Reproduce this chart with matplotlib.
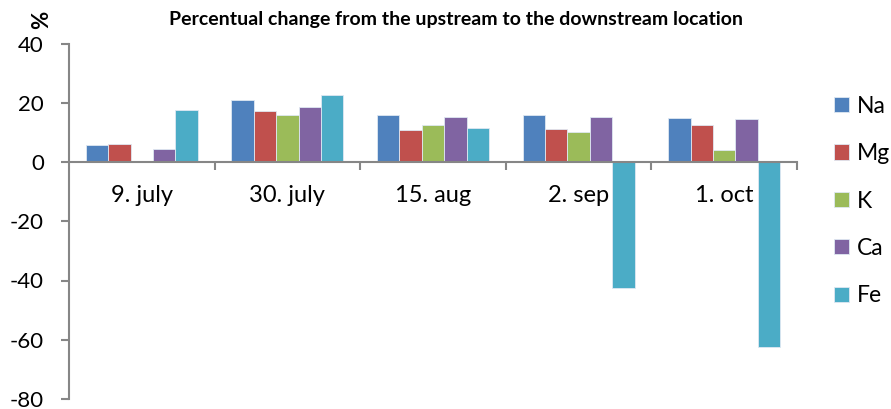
import matplotlib
matplotlib.use('Agg')
import matplotlib.pyplot as plt
import numpy as np

plt.rcParams['font.family'] = ['Lato', 'DejaVu Sans']
plt.rcParams['axes.unicode_minus'] = False

dates = ['9. july', '30. july', '15. aug', '2. sep', '1. oct']
elements = ['Na', 'Mg', 'K', 'Ca', 'Fe']
colors = ['#4F81BD', '#C0504D', '#9BBB59', '#8064A2', '#4BACC6']

na = [5.7, 21.0, 15.8, 15.8, 14.8]
mg = [6.1, 17.1, 10.8, 11.0, 12.5]
k = [0.0, 16.0, 12.5, 10.1, 3.9]
ca = [4.5, 18.4, 15.3, 15.3, 14.6]
fe = [17.6, 22.7, 11.4, -42.7, -62.4]
series = [na, mg, k, ca, fe]

fig = plt.figure(figsize=(8.91, 4.09), dpi=100)
ax = fig.add_axes([69 / 891, 1 - 399 / 409, (797 - 69) / 891, (399 - 43.5) / 409])

x = np.arange(len(dates))
w = 1 / 6.5  # excel gap width 150%
for i, (vals, name, c) in enumerate(zip(series, elements, colors)):
    ax.bar(x + (i - 2) * w, vals, w, color=c, label=name,
           edgecolor='#dfe8f2', linewidth=0.6)

ax.set_xlim(-0.5, 4.5)
ax.set_ylim(-80, 40)
ax.set_yticks(range(-80, 41, 20))
ax.set_xticks(np.arange(0.5, 4.6, 1))
ax.set_xticklabels([])

gray = '#868686'
for s in ['top', 'right']:
    ax.spines[s].set_visible(False)
ax.spines['bottom'].set_position(('data', 0))
ax.spines['bottom'].set_color(gray)
ax.spines['left'].set_color(gray)
ax.spines['bottom'].set_linewidth(1.5)
ax.spines['left'].set_linewidth(1.5)
ax.tick_params(axis='y', direction='out', length=6, width=1.5, color=gray,
               labelsize=16, pad=12)
ax.tick_params(axis='x', direction='out', length=6, width=1.5, color=gray)

for xi, d in zip(x, dates):
    ax.annotate(d, xy=(xi, 0), xytext=(0, -34), textcoords='offset pixels',
                ha='center', va='center', fontsize=17)

fig.text(456 / 891, 1 - 20 / 409, 'Percentual change from the upstream to the downstream location',
         ha='center', va='center', fontsize=14, fontweight='bold')
fig.text(42 / 891, 1 - 20 / 409, '%', rotation=90, ha='center', va='center',
         fontsize=16, fontweight='bold')

fig.legend(loc='center left', bbox_to_anchor=(834 / 891, 1 - 201 / 409),
           frameon=False, fontsize=16.5, handlelength=0.65, handleheight=0.65,
           handletextpad=0.35, labelspacing=1.15, borderpad=0, borderaxespad=0)

fig.savefig('out.png', dpi=100)
